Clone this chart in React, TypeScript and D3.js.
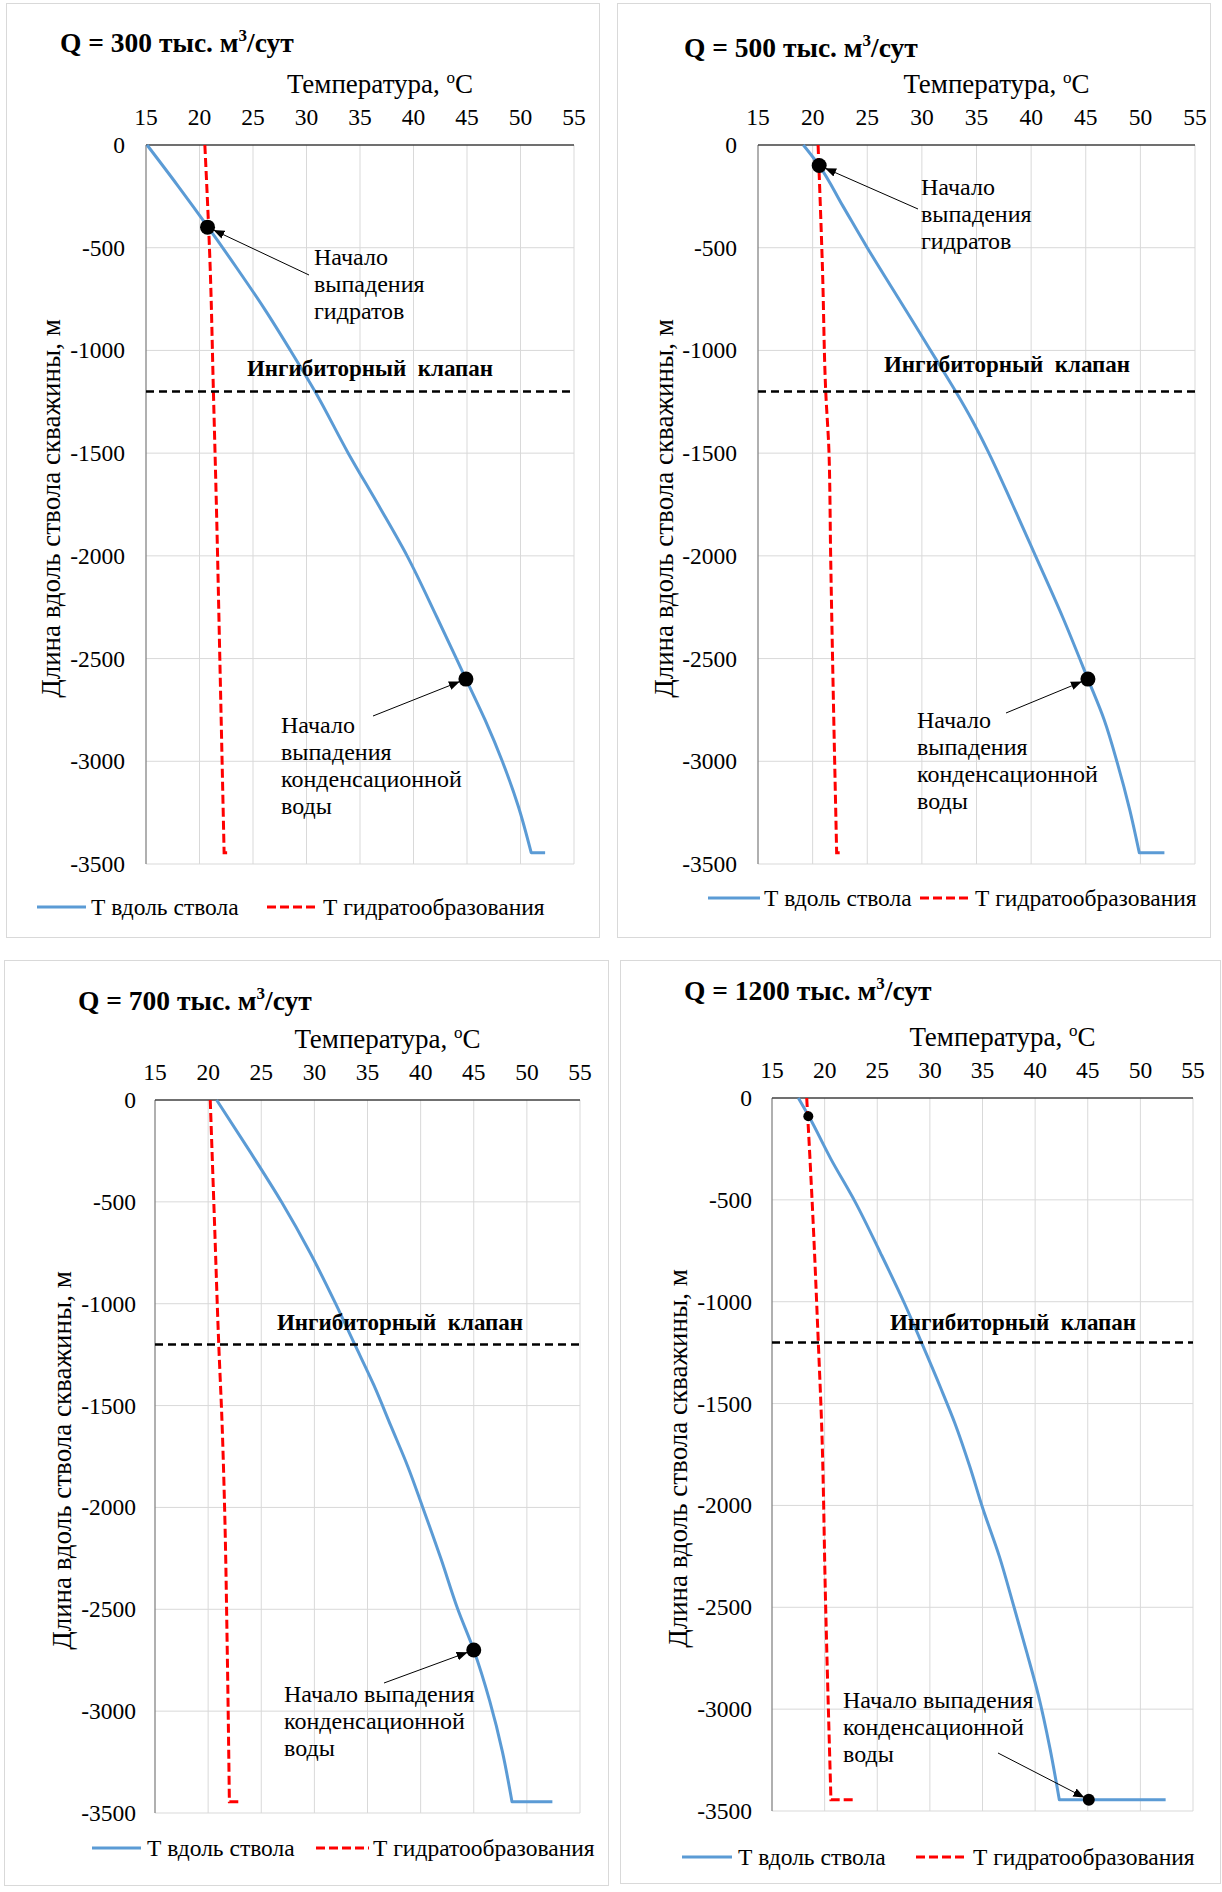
import React, { useEffect, useRef } from 'react';
import * as d3 from 'd3';

const FONT = "'Liberation Serif', 'Times New Roman', serif";

const tempTicks = [15, 20, 25, 30, 35, 40, 45, 50, 55];
const depthTicks = [0, -500, -1000, -1500, -2000, -2500, -3000, -3500];
const valveDepth = -1200;

// [температура, длина] — Q = 300
const well300 = [[15.1, 0], [18.0, -200], [20.8, -400], [23.5, -600], [26.1, -800], [28.5, -1000], [30.8, -1200], [33.9, -1500], [36.8, -1760], [39.4, -2000], [42.2, -2300], [44.9, -2600], [46.7, -2800], [48.3, -3000], [49.8, -3220], [51.0, -3445], [52.3, -3445]];
const hydrate300 = [[20.5, 0], [21.0, -600], [21.3, -1200], [21.6, -1800], [21.9, -2500], [22.3, -3445], [22.7, -3445]];
const hydrateOnset300 = [20.75, -400];
const condensOnset300 = [44.9, -2600];

// Q = 500
const well500 = [[19.15, 0], [20.6, -100], [22.8, -300], [25.0, -500], [27.2, -690], [29.3, -870], [31.2, -1035], [33.1, -1200], [34.6, -1340], [36.0, -1485], [38.3, -1750], [40.4, -2000], [42.9, -2300], [45.2, -2600], [46.7, -2800], [47.9, -3010], [49.0, -3230], [49.9, -3445], [52.2, -3445]];
const hydrate500 = [[20.5, 0], [20.9, -600], [21.2, -1200], [21.5, -1500], [21.65, -2000], [21.9, -2700], [22.2, -3445], [22.8, -3445]];
const hydrateOnset500 = [20.6, -100];
const condensOnset500 = [45.2, -2600];

// Q = 700
const well700 = [[20.8, 0], [23.9, -250], [26.9, -500], [29.6, -750], [32.0, -1000], [33.8, -1200], [35.6, -1400], [37.2, -1600], [38.8, -1800], [40.2, -2000], [41.9, -2250], [43.5, -2500], [45.0, -2700], [46.5, -2950], [47.7, -3200], [48.6, -3445], [52.4, -3445]];
const hydrate700 = [[20.2, 0], [20.6, -600], [21.0, -1200], [21.3, -1570], [21.55, -2000], [21.8, -2700], [22.0, -3445], [22.85, -3445]];
const condensOnset700 = [45.0, -2700];

// Q = 1200
const well1200 = [[17.5, 0], [18.5, -90], [20.6, -300], [22.9, -510], [25.3, -760], [27.6, -1010], [29.2, -1200], [31.0, -1420], [32.4, -1600], [33.8, -1810], [35.0, -2010], [36.6, -2250], [38.0, -2500], [39.2, -2720], [40.3, -2930], [41.4, -3190], [42.3, -3445], [52.4, -3445]];
const hydrate1200 = [[18.3, 0], [18.9, -600], [19.4, -1200], [19.7, -1580], [20.1, -2500], [20.6, -3445], [22.8, -3445]];
const hydrateOnset1200 = [18.45, -90];
const condensOnset1200 = [45.1, -3445];

const legendLabels = ['Т вдоль ствола', 'Т гидратообразования'];

// раскладка четырёх графиков на листе
const panels = [
  {
    q: '300', well: well300, hydrate: hydrate300,
    box: [6, 3, 599, 937], plot: [146, 145, 574, 864],
    titleX: 60, titleY: 52, yLabelX: 125, yTitleX: 51,
    valveX: 370, valveY: 376, legendY: 907, legend: [37, 86, 91, 267, 317, 323],
    notes: [
      { at: hydrateOnset300, r: 7.5, lines: ['Начало', 'выпадения', 'гидратов'], tx: 314, ty: 265, from: [309, 275] },
      { at: condensOnset300, r: 7.5, lines: ['Начало', 'выпадения', 'конденсационной', 'воды'], tx: 281, ty: 733, from: [373, 716] },
    ],
  },
  {
    q: '500', well: well500, hydrate: hydrate500,
    box: [617, 3, 1210, 937], plot: [758, 145, 1195, 864],
    titleX: 684, titleY: 57, yLabelX: 737, yTitleX: 664,
    valveX: 1007, valveY: 372, legendY: 898, legend: [708, 760, 764, 920, 971, 975],
    notes: [
      { at: hydrateOnset500, r: 7.5, lines: ['Начало', 'выпадения', 'гидратов'], tx: 921, ty: 195, from: [918, 209] },
      { at: condensOnset500, r: 7.5, lines: ['Начало', 'выпадения', 'конденсационной', 'воды'], tx: 917, ty: 728, from: [1006, 713] },
    ],
  },
  {
    q: '700', well: well700, hydrate: hydrate700,
    box: [4, 960, 608, 1885], plot: [155, 1100, 580, 1813],
    titleX: 78, titleY: 1010, yLabelX: 136, yTitleX: 62,
    valveX: 400, valveY: 1330, legendY: 1848, legend: [92, 141, 147, 316, 369, 373],
    notes: [
      { at: condensOnset700, r: 7.5, lines: ['Начало выпадения', 'конденсационной', 'воды'], tx: 284, ty: 1702, from: [384, 1683] },
    ],
  },
  {
    q: '1200', well: well1200, hydrate: hydrate1200,
    box: [620, 960, 1220, 1883], plot: [772, 1098, 1193, 1811],
    titleX: 684, titleY: 1000, yLabelX: 752, yTitleX: 678,
    valveX: 1013, valveY: 1330, legendY: 1857, legend: [682, 732, 738, 916, 967, 973],
    notes: [
      { at: hydrateOnset1200, r: 5, lines: [], tx: 0, ty: 0, from: null },
      { at: condensOnset1200, r: 6, lines: ['Начало выпадения', 'конденсационной', 'воды'], tx: 843, ty: 1708, from: [998, 1753] },
    ],
  },
];

function drawPanel(svg: any, p: any) {
  const g = svg.append('g').attr('font-family', FONT).attr('fill', '#000');
  const [bx0, by0, bx1, by1] = p.box;
  const [px0, py0, px1, py1] = p.plot;

  g.append('rect')
    .attr('x', bx0 + 0.5).attr('y', by0 + 0.5)
    .attr('width', bx1 - bx0).attr('height', by1 - by0)
    .attr('fill', '#fff').attr('stroke', '#d9d9d9');

  const x = d3.scaleLinear().domain([15, 55]).range([px0, px1]);
  const y = d3.scaleLinear().domain([0, -3500]).range([py0, py1]);

  // сетка
  g.selectAll('line.vgrid').data(tempTicks.slice(1)).join('line')
    .attr('class', 'vgrid')
    .attr('x1', (d: number) => x(d)).attr('x2', (d: number) => x(d))
    .attr('y1', y(0)).attr('y2', y(-3500))
    .attr('stroke', '#d9d9d9').attr('stroke-width', 1);
  g.selectAll('line.hgrid').data(depthTicks.slice(1)).join('line')
    .attr('class', 'hgrid')
    .attr('x1', x(15)).attr('x2', x(55))
    .attr('y1', (d: number) => y(d)).attr('y2', (d: number) => y(d))
    .attr('stroke', '#d9d9d9').attr('stroke-width', 1);

  // оси
  g.append('line').attr('x1', x(15)).attr('x2', x(15)).attr('y1', y(0)).attr('y2', y(-3500))
    .attr('stroke', '#868686').attr('stroke-width', 1.3);
  g.append('line').attr('x1', x(15)).attr('x2', x(55)).attr('y1', y(0)).attr('y2', y(0))
    .attr('stroke', '#404040').attr('stroke-width', 1.5);

  g.selectAll('text.xt').data(tempTicks).join('text')
    .attr('class', 'xt')
    .attr('x', (d: number) => x(d)).attr('y', py0 - 20)
    .attr('text-anchor', 'middle').attr('font-size', 23.5)
    .text((d: number) => d);
  g.selectAll('text.yt').data(depthTicks).join('text')
    .attr('class', 'yt')
    .attr('x', p.yLabelX).attr('y', (d: number) => y(d) + 8)
    .attr('text-anchor', 'end').attr('font-size', 23.5)
    .text((d: number) => d);

  const xTitle = g.append('text')
    .attr('x', (px0 + px1) / 2 + 20).attr('y', py0 - 52)
    .attr('text-anchor', 'middle').attr('font-size', 27);
  xTitle.append('tspan').text('Температура, ');
  xTitle.append('tspan').attr('font-size', 17).attr('dy', -10).text('o');
  xTitle.append('tspan').attr('dy', 10).text('C');

  g.append('text')
    .attr('transform', `translate(${p.yTitleX + 9},${(py0 + py1) / 2 + 4}) rotate(-90)`)
    .attr('text-anchor', 'middle').attr('font-size', 27)
    .text('Длина вдоль ствола скважины, м');

  const title = g.append('text')
    .attr('x', p.titleX).attr('y', p.titleY)
    .attr('font-size', 27.5).attr('font-weight', 'bold');
  title.append('tspan').text(`Q = ${p.q} тыс. м`);
  title.append('tspan').attr('font-size', 17).attr('dy', -11).text('3');
  title.append('tspan').attr('dy', 11).text('/сут');

  // линии: гладкая часть по глубине и горизонтальный хвост на забое
  const line = d3.line<number[]>().x(d => x(d[0])).y(d => y(d[1])).curve(d3.curveMonotoneY);
  const smoothPath = (pts: number[][]) => {
    const last = pts[pts.length - 1];
    return line(pts.slice(0, -1)) + `L${x(last[0])},${y(last[1])}`;
  };
  g.append('path').attr('d', smoothPath(p.well)).attr('fill', 'none')
    .attr('stroke', '#5b9bd5').attr('stroke-width', 3).attr('stroke-linejoin', 'round');
  g.append('path').attr('d', smoothPath(p.hydrate)).attr('fill', 'none')
    .attr('stroke', '#ff0000').attr('stroke-width', 3).attr('stroke-dasharray', '9,4');

  // ингибиторный клапан
  g.append('line')
    .attr('x1', x(15)).attr('x2', x(55)).attr('y1', y(valveDepth)).attr('y2', y(valveDepth))
    .attr('stroke', '#000').attr('stroke-width', 2.5).attr('stroke-dasharray', '8,5');
  g.append('text')
    .attr('x', p.valveX).attr('y', p.valveY)
    .attr('text-anchor', 'middle').attr('font-size', 23).attr('font-weight', 'bold')
    .style('white-space', 'pre')
    .text('Ингибиторный  клапан');

  // подписи с выносками
  p.notes.forEach((n: any) => {
    const cx = x(n.at[0]);
    const cy = y(n.at[1]);
    if (n.from) {
      const dx = cx - n.from[0];
      const dy = cy - n.from[1];
      const len = Math.hypot(dx, dy);
      const ex = cx - (dx / len) * (n.r - 1);
      const ey = cy - (dy / len) * (n.r - 1);
      g.append('line')
        .attr('x1', n.from[0]).attr('y1', n.from[1]).attr('x2', ex).attr('y2', ey)
        .attr('stroke', '#000').attr('stroke-width', 1)
        .attr('marker-end', 'url(#arrowHead)');
    }
    g.append('circle').attr('cx', cx).attr('cy', cy).attr('r', n.r).attr('fill', '#000');
    n.lines.forEach((t: string, i: number) => {
      g.append('text')
        .attr('x', n.tx).attr('y', n.ty + i * 27)
        .attr('font-size', 24)
        .text(t);
    });
  });

  // легенда
  const [l0, l1, lt0, r0, r1, rt0] = p.legend;
  const ly = p.legendY;
  g.append('line').attr('x1', l0).attr('x2', l1).attr('y1', ly).attr('y2', ly)
    .attr('stroke', '#5b9bd5').attr('stroke-width', 3);
  g.append('text').attr('x', lt0).attr('y', ly + 8).attr('font-size', 23.5).text(legendLabels[0]);
  g.append('line').attr('x1', r0).attr('x2', r1).attr('y1', ly).attr('y2', ly)
    .attr('stroke', '#ff0000').attr('stroke-width', 3).attr('stroke-dasharray', '9,4');
  g.append('text').attr('x', rt0).attr('y', ly + 8).attr('font-size', 23.5).text(legendLabels[1]);
}

export default function App() {
  const ref = useRef<SVGSVGElement>(null);

  useEffect(() => {
    const svg = d3.select(ref.current);
    svg.selectAll('*').remove();
    svg.append('defs').append('marker')
      .attr('id', 'arrowHead')
      .attr('viewBox', '0 0 10 10')
      .attr('refX', 10).attr('refY', 5)
      .attr('markerWidth', 11).attr('markerHeight', 11)
      .attr('markerUnits', 'userSpaceOnUse')
      .attr('orient', 'auto')
      .append('path').attr('d', 'M0,1 L10,5 L0,9 Z').attr('fill', '#000');
    panels.forEach(p => drawPanel(svg, p));
  }, []);

  return (
    <svg
      ref={ref}
      width={1222}
      height={1892}
      style={{ position: 'absolute', left: 0, top: 0, background: '#fff' }}
    />
  );
}
